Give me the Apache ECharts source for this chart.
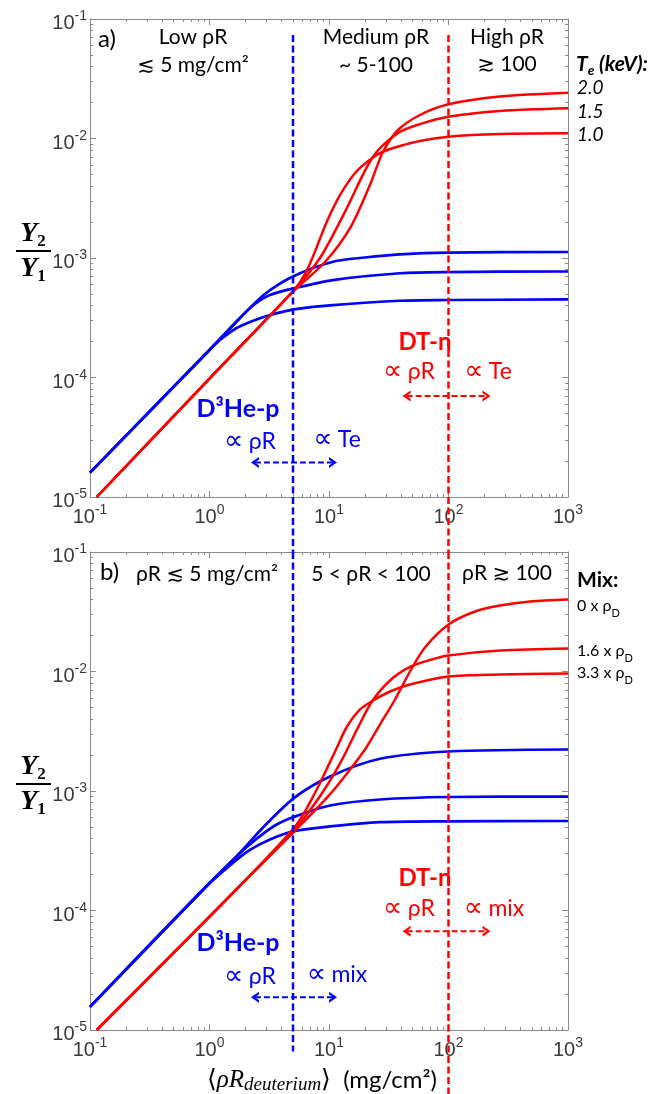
<!DOCTYPE html>
<html><head><meta charset="utf-8">
<script src="https://cdn.jsdelivr.net/npm/echarts@6/dist/echarts.min.js"></script>
<style>html,body{margin:0;padding:0;background:#fff}#c{width:661px;height:1094px}</style>
</head><body><div id="c"></div>
<script>
// ---------- tick values ----------
const xMajor = [0.1, 1, 10, 100, 1000];
const yMajor = [1e-5, 1e-4, 1e-3, 1e-2, 1e-1];
const xMinor = [0.2,0.3,0.4,0.5,0.6,0.7,0.8,0.9,2,3,4,5,6,7,8,9,20,30,40,50,60,70,80,90,200,300,400,500,600,700,800,900];
const yMinor = [2e-5,3e-5,4e-5,5e-5,6e-5,7e-5,8e-5,9e-5,2e-4,3e-4,4e-4,5e-4,6e-4,7e-4,8e-4,9e-4,2e-3,3e-3,4e-3,5e-3,6e-3,7e-3,8e-3,9e-3,2e-2,3e-2,4e-2,5e-2,6e-2,7e-2,8e-2,9e-2];

// ---------- panel a: D3He-p (blue) for Te = 1.0, 1.5, 2.0 keV ----------
const aBlueLow  = [[0.1,1.6e-5],[1,1.7e-4],[1.224,2.06e-4],[1.635,2.545e-4],[2.18,2.91e-4],[3.21,3.33e-4],[5.09,3.72e-4],[10.8,4.04e-4],[39.3,4.39e-4],[100,4.45e-4],[1000,4.5e-4]];
const aBlueMid  = [[0.1,1.6e-5],[1,1.7e-4],[1.8,3.15e-4],[2.4,4.12e-4],[3.21,4.9e-4],[5.09,5.58e-4],[10.8,6.54e-4],[39.3,7.45e-4],[100,7.63e-4],[1000,7.71e-4]];
const aBlueHigh = [[0.1,1.6e-5],[1,1.7e-4],[1.8,3.15e-4],[2.91,5.0e-4],[5.09,7.07e-4],[10.8,9.31e-4],[20,1.01e-3],[39.3,1.074e-3],[100,1.11e-3],[1000,1.123e-3]];
// ---------- panel a: DT-n (red) ----------
const aRed10 = [[0.1138,1e-5],[1,9.8e-5],[5.09,5.4e-4],[6.67,8.25e-4],[9.57,2.0e-3],[12.4,3.37e-3],[16.8,5.24e-3],[23.3,6.93e-3],[28.3,7.75e-3],[39.3,8.65e-3],[57.7,9.53e-3],[100,1.035e-2],[270,1.09e-2],[1000,1.105e-2]];
const aRed15 = [[0.1138,1e-5],[1,9.8e-5],[5.09,5.4e-4],[8.41,1.0e-3],[13.6,2.43e-3],[23.3,7.0e-3],[37.8,1.11e-2],[57.7,1.32e-2],[100,1.52e-2],[270,1.70e-2],[1000,1.79e-2]];
const aRed20 = [[0.1138,1e-5],[1,9.8e-5],[5.09,5.3e-4],[9.26,9.26e-4],[15.0,1.78e-3],[22.0,4.08e-3],[28.3,7.71e-3],[37.8,1.178e-2],[57.7,1.573e-2],[100,1.933e-2],[270,2.246e-2],[1000,2.416e-2]];

// ---------- panel b: D3He-p (blue) for mixes ----------
const bBlueLow  = [[0.1,1.56e-5],[0.887,1.5e-4],[1.48,2.38e-4],[2.18,3.21e-4],[3.21,3.93e-4],[5.12,4.61e-4],[10.2,5.05e-4],[26.7,5.48e-4],[100,5.58e-4],[1000,5.61e-4]];
const bBlueMid  = [[0.1,1.56e-5],[0.887,1.5e-4],[1.69,2.85e-4],[2.5,4.0e-4],[3.53,5.14e-4],[5.12,6.08e-4],[10.2,7.56e-4],[26.7,8.49e-4],[100,8.91e-4],[1000,8.99e-4]];
const bBlueHigh = [[0.1,1.56e-5],[0.887,1.5e-4],[1.69,2.85e-4],[2.91,5.14e-4],[5.12,8.77e-4],[10.2,1.32e-3],[26.7,1.86e-3],[100,2.14e-3],[1000,2.225e-3]];
// ---------- panel b: DT-n (red) ----------
const bRed0  = [[0.1138,1e-5],[1.39,1.24e-4],[5.12,4.58e-4],[9.87,9.05e-4],[15.0,1.513e-3],[20.0,2.225e-3],[26.7,3.6e-3],[35.7,5.83e-3],[47.6,1.0e-2],[63.6,1.588e-2],[100,2.473e-2],[166.6,3.178e-2],[270,3.567e-2],[481,3.853e-2],[1000,4.0e-2]];
const bRed16 = [[0.1138,1e-5],[1.39,1.24e-4],[5.12,4.76e-4],[8.41,9.05e-4],[12.37,1.7e-3],[17.49,3.4e-3],[22.9,5.61e-3],[32.4,8.41e-3],[47.6,1.091e-2],[70.0,1.248e-2],[100,1.361e-2],[270,1.498e-2],[1000,1.558e-2]];
const bRed33 = [[0.1138,1e-5],[1.39,1.24e-4],[5.12,4.95e-4],[7.39,9.05e-4],[11.45,2.225e-3],[14.15,3.465e-3],[18.17,4.81e-3],[22.9,5.64e-3],[32.4,6.8e-3],[47.6,7.78e-3],[100,9.08e-3],[270,9.44e-3],[1000,9.62e-3]];

// ---------- regime boundaries and arrows ----------
const guideBlueX = 5, guideRedX = 100;
const guideTopA = 0.0735, guideBottomA = 3.4e-6;          // panel-a part (runs down into the gap)
const guideTopB = 0.1, guideBlueBottomB = 6.6e-6, guideRedBottomB = 2.9e-6; // panel-b part
const blueArrowX = [2.4, 10.8], redArrowX = [44.6, 208];
const aBlueArrowY = 1.94e-5, aRedArrowY = 7.0e-5;
const bBlueArrowY = 1.88e-5, bRedArrowY = 6.71e-5;

const BLUE = '#0000ff', RED = '#ff0000', AX = '#8a8a8a', LBL = '#3a3a3a';
const F = 'Lato, "Noto Sans", "DejaVu Sans", sans-serif';
const SYM = '"DejaVu Sans", "Noto Sans", sans-serif';
const SER = '"Liberation Serif", "DejaVu Serif", serif';
const NUM = '"Liberation Sans", Arial, sans-serif';

const fmt = v => '{b|10}{s|' + Math.round(Math.log10(v)) + '}';
const rich = {
  b: {fontFamily: NUM, fontSize: 20, color: LBL, lineHeight: 28},
  s: {fontFamily: NUM, fontSize: 14, color: LBL, lineHeight: 14, verticalAlign: 'top'}
};

function xAxes(g) {
  const base = {gridIndex: g, type: 'log', logBase: 10, min: 0.1, max: 1000, splitLine: {show: false}};
  const line = {show: true, onZero: false, lineStyle: {color: AX, width: 1}};
  return [
    Object.assign({}, base, {position: 'bottom', axisLine: line,
      axisTick: {show: true, inside: true, length: 6, lineStyle: {color: AX}, customValues: xMajor},
      axisLabel: {show: true, margin: 6, customValues: xMajor, formatter: fmt, rich: rich}}),
    Object.assign({}, base, {position: 'bottom', axisLine: {show: false, onZero: false},
      axisTick: {show: true, inside: true, length: 3, lineStyle: {color: AX}, customValues: xMinor}, axisLabel: {show: false}}),
    Object.assign({}, base, {position: 'top', axisLine: line,
      axisTick: {show: true, inside: true, length: 6, lineStyle: {color: AX}, customValues: xMajor}, axisLabel: {show: false}}),
    Object.assign({}, base, {position: 'top', axisLine: {show: false, onZero: false},
      axisTick: {show: true, inside: true, length: 3, lineStyle: {color: AX}, customValues: xMinor}, axisLabel: {show: false}})
  ];
}
function yAxes(g) {
  const base = {gridIndex: g, type: 'log', logBase: 10, min: 1e-5, max: 0.1, splitLine: {show: false}};
  const line = {show: true, onZero: false, lineStyle: {color: AX, width: 1}};
  return [
    Object.assign({}, base, {position: 'left', axisLine: line,
      axisTick: {show: true, inside: true, length: 6, lineStyle: {color: AX}, customValues: yMajor},
      axisLabel: {show: true, margin: 3, padding: [9, 0, 0, 0], customValues: yMajor, formatter: fmt, rich: rich}}),
    Object.assign({}, base, {position: 'left', axisLine: {show: false, onZero: false},
      axisTick: {show: true, inside: true, length: 3, lineStyle: {color: AX}, customValues: yMinor}, axisLabel: {show: false}}),
    Object.assign({}, base, {position: 'right', axisLine: line,
      axisTick: {show: true, inside: true, length: 6, lineStyle: {color: AX}, customValues: yMajor}, axisLabel: {show: false}}),
    Object.assign({}, base, {position: 'right', axisLine: {show: false, onZero: false},
      axisTick: {show: true, inside: true, length: 3, lineStyle: {color: AX}, customValues: yMinor}, axisLabel: {show: false}})
  ];
}

function curve(data, color, g, w) {
  return {type: 'line', xAxisIndex: g * 4, yAxisIndex: g * 4, data: data, symbol: 'none', showSymbol: false,
    smooth: 0.3, lineStyle: {color: color, width: w}, itemStyle: {color: color},
    z: 2, silent: true, animation: false};
}
const CHEV = 'path://M0,10 L5,0 L10,10 L7.6,10 L5,4.6 L2.4,10 Z';
function arrow(xs, y, color, g) {
  return {type: 'line', xAxisIndex: g * 4, yAxisIndex: g * 4,
    data: [{value: [xs[0], y], symbolRotate: 90}, {value: [xs[1], y], symbolRotate: -90}],
    symbol: CHEV, symbolSize: [11, 8], showSymbol: true, showAllSymbol: true,
    lineStyle: {color: color, width: 2, type: [6, 3]}, itemStyle: {color: color},
    z: 4, silent: true, animation: false, clip: false};
}
function guide(x, y0, y1, color, g) {
  return {type: 'line', xAxisIndex: g * 4, yAxisIndex: g * 4, data: [[x, y0], [x, y1]], symbol: 'none',
    lineStyle: {color: color, width: 2.5, type: [7, 3.5]}, z: 3, silent: true, animation: false, clip: false};
}

function txt(text, x, y, o) {
  return {type: 'text', x: x, y: y, z: 100, silent: true,
    style: Object.assign({text: text, fill: '#000', fontFamily: F, fontSize: 21, align: 'center', verticalAlign: 'middle'}, o || {})};
}
const subRich = (size, color, extra) => ({
  t: Object.assign({fontFamily: F, fontSize: size, fill: color, lineHeight: 26}, extra || {}),
  s: Object.assign({fontFamily: F, fontSize: Math.round(size * 0.66), fill: color, lineHeight: 12, verticalAlign: 'bottom'}, extra || {})
});
// "∝ xx" labels: proportional sign in a font that has it
function prop(word, x, y, color) {
  return txt('{p|∝} {t|' + word + '}', x, y, {rich: {
    p: {fontFamily: SYM, fontSize: 27, fill: color},
    t: {fontFamily: F, fontSize: 23, fill: color}
  }});
}
function frac(cy) {
  const r = {
    y: {fontFamily: SER, fontSize: 28, fontWeight: 'bold', fontStyle: 'italic', fill: '#000', lineHeight: 32},
    s: {fontFamily: SER, fontSize: 17, fontWeight: 'bold', fill: '#000', lineHeight: 15, verticalAlign: 'bottom'}
  };
  return [
    txt('{y|Y}{s|2}', 33, cy - 17, {rich: r}),
    {type: 'line', z: 100, silent: true, shape: {x1: 16, y1: cy, x2: 51, y2: cy}, style: {stroke: '#000', lineWidth: 2}},
    txt('{y|Y}{s|1}', 33, cy + 18, {rich: r})
  ];
}

const graphics = [].concat(
  [
    txt('a)', 98, 39, {align: 'left', fontSize: 24}),
    txt('Low ρR', 193, 37),
    txt('≲ 5 mg/cm²', 193, 65),
    txt('Medium ρR', 376, 37),
    txt('~ 5-100', 376, 65),
    txt('High ρR', 507, 37),
    txt('≳ 100', 507, 64),
    txt('{t|T}{s|e}{t| (keV):}', 576, 64, {align: 'left', rich: subRich(21, '#000', {fontWeight: 'bold', fontStyle: 'italic'})}),
    txt('2.0', 577, 88, {align: 'left', fontSize: 19, fontStyle: 'italic'}),
    txt('1.5', 577, 112, {align: 'left', fontSize: 19, fontStyle: 'italic'}),
    txt('1.0', 577, 135, {align: 'left', fontSize: 19, fontStyle: 'italic'}),
    txt('DT-n', 425, 342, {fill: RED, fontWeight: 'bold', fontSize: 24}),
    prop('ρR', 409, 372, RED),
    prop('Te', 488, 372, RED),
    txt('D³He-p', 238, 409, {fill: BLUE, fontWeight: 'bold', fontSize: 25}),
    prop('ρR', 250, 442, BLUE),
    prop('Te', 337, 440, BLUE),

    txt('b)', 100, 572, {align: 'left', fontSize: 24}),
    txt('ρR ≲ 5 mg/cm²', 207, 574),
    txt('5 < ρR < 100', 371, 574),
    txt('ρR ≳ 100', 507, 573),
    txt('Mix:', 577, 580, {align: 'left', fontWeight: 'bold', fontSize: 21}),
    txt('{t|0 x ρ}{s|D}', 577, 606, {align: 'left', rich: subRich(16, '#000')}),
    txt('{t|1.6 x ρ}{s|D}', 577, 651, {align: 'left', rich: subRich(16, '#000')}),
    txt('{t|3.3 x ρ}{s|D}', 577, 673, {align: 'left', rich: subRich(16, '#000')}),
    txt('DT-n', 425, 878, {fill: RED, fontWeight: 'bold', fontSize: 24}),
    prop('ρR', 409, 909, RED),
    prop('mix', 494, 909, RED),
    txt('D³He-p', 238, 943, {fill: BLUE, fontWeight: 'bold', fontSize: 25}),
    prop('ρR', 250, 977, BLUE),
    prop('mix', 337, 975, BLUE),

    txt('{m|⟨}{i|ρR}{d|deuterium}{m|⟩}{p|  (mg/cm²)}', 322, 1080, {rich: {
      m: {fontFamily: SER, fontSize: 25, fill: '#000', lineHeight: 28},
      i: {fontFamily: SER, fontSize: 25, fontStyle: 'italic', fill: '#000', lineHeight: 28},
      d: {fontFamily: SER, fontSize: 19, fontStyle: 'italic', fill: '#000', lineHeight: 16, verticalAlign: 'bottom'},
      p: {fontFamily: F, fontSize: 24, fill: '#000', lineHeight: 28}
    }})
  ],
  frac(251),
  frac(784)
);

const option = {
  animation: false,
  backgroundColor: '#fff',
  grid: [
    {left: 90, top: 19, width: 478, height: 478, containLabel: false},
    {left: 90, top: 552, width: 478, height: 478, containLabel: false}
  ],
  xAxis: xAxes(0).concat(xAxes(1)),
  yAxis: yAxes(0).concat(yAxes(1)),
  series: [
    curve(aBlueLow, BLUE, 0, 2.7), curve(aBlueMid, BLUE, 0, 2.7), curve(aBlueHigh, BLUE, 0, 2.7),
    curve(aRed10, RED, 0, 2.5), curve(aRed15, RED, 0, 2.5), curve(aRed20, RED, 0, 2.5),
    curve(bBlueLow, BLUE, 1, 2.7), curve(bBlueMid, BLUE, 1, 2.7), curve(bBlueHigh, BLUE, 1, 2.7),
    curve(bRed0, RED, 1, 2.5), curve(bRed16, RED, 1, 2.5), curve(bRed33, RED, 1, 2.5),
    guide(guideBlueX, guideTopA, guideBottomA, BLUE, 0),
    guide(guideRedX, guideTopA, guideBottomA, RED, 0),
    guide(guideBlueX, guideTopB, guideBlueBottomB, BLUE, 1),
    guide(guideRedX, guideTopB, guideRedBottomB, RED, 1),
    arrow(blueArrowX, aBlueArrowY, BLUE, 0), arrow(redArrowX, aRedArrowY, RED, 0),
    arrow(blueArrowX, bBlueArrowY, BLUE, 1), arrow(redArrowX, bRedArrowY, RED, 1)
  ],
  graphic: {elements: graphics}
};
const chart = echarts.init(document.getElementById('c'), null, {renderer: 'canvas'});
chart.setOption(option);
</script></body></html>
